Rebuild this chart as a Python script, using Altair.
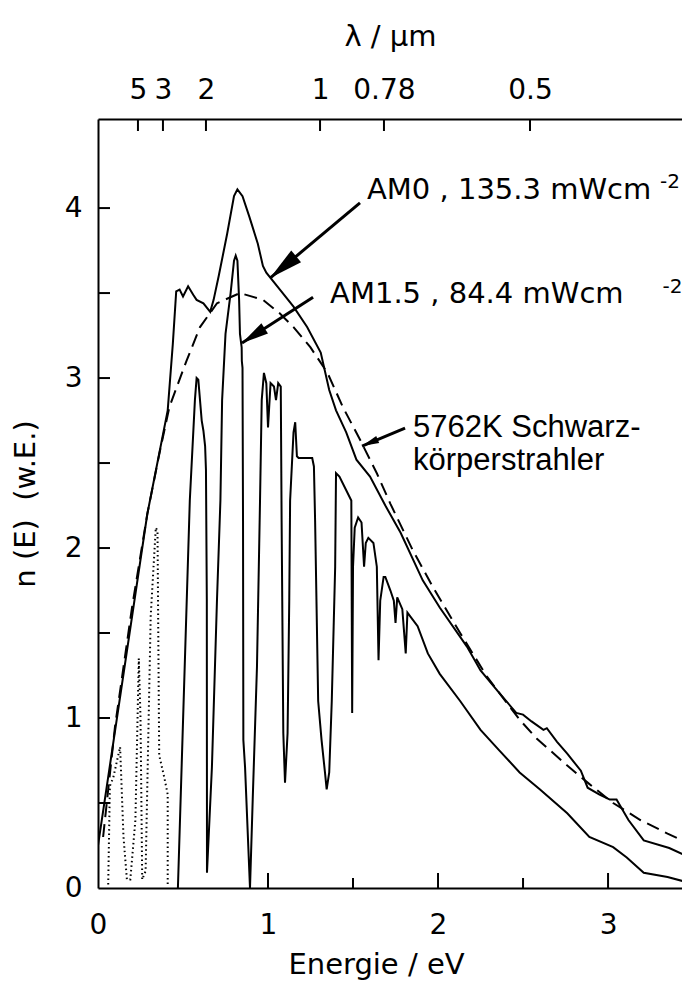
import math
import altair as alt
import pandas as pd

# ---------------- data ----------------
# AM0 spectrum (solid)
am0_E = [0.0, 0.29, 0.41, 0.44, 0.46, 0.48, 0.50, 0.53, 0.56, 0.58, 0.62, 0.66, 0.68, 0.71, 0.76,
         0.80, 0.82, 0.85, 0.89, 0.94, 0.97, 0.99, 1.07, 1.15, 1.23, 1.31, 1.36, 1.40, 1.46, 1.52,
         1.60, 1.69, 1.78, 1.91, 2.01, 2.17, 2.25, 2.35, 2.46, 2.50, 2.55, 2.62, 2.64, 2.70, 2.76,
         2.84, 2.88, 2.95, 3.01, 3.05, 3.12, 3.21, 3.36, 3.48]
am0_n = [0.25, 2.20, 2.81, 3.20, 3.51, 3.52, 3.48, 3.54, 3.49, 3.46, 3.44, 3.39, 3.46, 3.60, 3.85,
         4.07, 4.11, 4.07, 3.95, 3.79, 3.66, 3.62, 3.52, 3.42, 3.30, 3.15, 2.93, 2.81, 2.68, 2.52,
         2.42, 2.25, 2.09, 1.81, 1.65, 1.42, 1.28, 1.16, 1.03, 1.02, 0.98, 0.93, 0.94, 0.86, 0.79,
         0.69, 0.59, 0.55, 0.52, 0.52, 0.40, 0.28, 0.235, 0.18]

# AM1.5 spectrum, dotted low-energy part
am15dot_E = [0.06, 0.07, 0.09, 0.13, 0.15, 0.17, 0.19, 0.22, 0.24, 0.25, 0.26, 0.28, 0.31, 0.34,
             0.35, 0.36, 0.39, 0.41, 0.41]
am15dot_n = [0.02, 0.60, 0.65, 0.83, 0.30, 0.05, 0.05, 0.40, 1.35, 1.00, 0.05, 0.10, 1.60, 2.12,
             2.10, 0.78, 0.65, 0.55, 0.02]

# AM1.5 spectrum, solid part
am15_E = [0.47, 0.54, 0.57, 0.58, 0.59, 0.61, 0.62, 0.63, 0.635, 0.64, 0.641, 0.67, 0.70, 0.72,
          0.73, 0.75, 0.78, 0.80, 0.81, 0.82, 0.83, 0.835, 0.845, 0.846, 0.85, 0.853, 0.855, 0.865,
          0.894, 0.91, 0.935, 0.953, 0.963, 0.976, 0.99, 1.00, 1.015, 1.035, 1.047, 1.06, 1.075,
          1.08, 1.09, 1.10, 1.115, 1.125, 1.13, 1.15, 1.16, 1.17, 1.18, 1.26, 1.27, 1.277, 1.295,
          1.315, 1.335, 1.345, 1.36, 1.375, 1.395, 1.40, 1.42, 1.46, 1.49, 1.495, 1.50, 1.51, 1.53,
          1.55, 1.565, 1.575, 1.59, 1.62, 1.64, 1.65, 1.66, 1.68, 1.69, 1.72, 1.74, 1.75, 1.76,
          1.79, 1.81, 1.82, 1.88, 1.94, 2.01, 2.13, 2.25, 2.36, 2.48, 2.60, 2.76, 2.89, 3.03, 3.11,
          3.21, 3.35, 3.48]
am15_n = [0.00, 2.28, 2.87, 3.00, 2.99, 2.75, 2.69, 2.60, 2.46, 1.70, 0.09, 0.71, 1.70, 2.28,
          2.87, 3.26, 3.50, 3.69, 3.72, 3.69, 3.46, 3.26, 3.18, 3.10, 3.06, 2.16, 0.87, 0.71,
          0.00, 0.52, 1.30, 2.28, 2.87, 3.03, 2.97, 2.71, 2.97, 2.95, 2.87, 2.97, 2.95,
          2.16, 0.91, 0.62, 0.91, 1.70, 2.28, 2.68, 2.74, 2.54, 2.53, 2.53, 2.48, 2.16, 1.10,
          0.87, 0.68, 0.58, 0.68, 1.10, 1.89, 2.44, 2.42, 2.34, 2.28, 1.03, 1.89, 2.12, 2.18,
          2.15, 1.89, 2.03, 2.06, 2.03, 1.89, 1.34, 1.69, 1.83, 1.83, 1.75, 1.69, 1.56, 1.71,
          1.64, 1.38, 1.62, 1.54, 1.38, 1.26, 1.10, 0.93, 0.81, 0.68, 0.58, 0.44, 0.30, 0.24, 0.18,
          0.09, 0.065, 0.03]

# 5762 K black body (dashed)
bb_E = [0.03, 0.10, 0.20, 0.29, 0.36, 0.42, 0.52, 0.60, 0.70, 0.835, 0.97, 1.07, 1.15, 1.25, 1.35,
        1.44, 1.54, 1.64, 1.72, 1.85, 1.97, 2.13, 2.29, 2.48, 2.58, 2.76, 2.88, 3.03, 3.19, 3.35, 3.48]
bb_n = [0.30, 0.95, 1.65, 2.20, 2.55, 2.83, 3.10, 3.30, 3.44, 3.50, 3.46, 3.38, 3.30, 3.18, 3.03,
        2.83, 2.64, 2.44, 2.26, 1.99, 1.77, 1.50, 1.24, 0.99, 0.88, 0.72, 0.62, 0.50, 0.40, 0.32, 0.26]

# axes
x_labels = [0, 1, 2, 3]
x_minor = [1.5, 2.5]
y_labels = [0, 1, 2, 3, 4]
y_ticks = [0.5, 1, 1.5, 2, 2.5, 3, 3.5, 4]
lam_pos = [0.235, 0.382, 0.635, 1.306, 1.682, 2.541]   # energy position of the wavelength ticks
lam_lab = ["5", "3", "2", "1", "0.78", "0.5"]

# annotations
txt_main = ["AM0 , 135.3 mWcm", "AM1.5 , 84.4 mWcm"]
txt_main_E = [1.582, 1.365]
txt_main_n = [4.053, 3.44]
txt_sup = ["-2", "-2"]
txt_sup_E = [3.306, 3.32]
txt_sup_n = [4.12, 3.50]
txt_bb = ["5762K Schwarz-", "körperstrahler"]
txt_bb_E = [1.853, 1.853]
txt_bb_n = [2.653, 2.459]

arr_tail_E = [1.541, 1.265, 1.806]
arr_tail_n = [4.03, 3.476, 2.706]
arr_tip_E = [1.012, 0.847, 1.553]
arr_tip_n = [3.588, 3.206, 2.60]
arr_head = [34, 27, 17]

# ---------------- layout ----------------
XMAX, YMAX = 3.435, 4.524
W, H = 584, 769
FONT = "DejaVu Sans"

xs = alt.Scale(domain=[0, XMAX], nice=False, zero=False)
ys = alt.Scale(domain=[0, YMAX], nice=False, zero=False)


def series(E, n):
    return pd.DataFrame({"E": E, "n": n, "i": list(range(len(E)))})


def curve(df, **kw):
    style = dict(color="black", strokeWidth=2, clip=True)
    style.update(kw)
    return alt.Chart(df).mark_line(**style).encode(
        x=alt.X("E:Q", scale=xs, axis=None),
        y=alt.Y("n:Q", scale=ys, axis=None),
        order="i:Q",
    )


am0 = curve(series(am0_E, am0_n))
am15 = curve(series(am15_E, am15_n))
am15d = curve(series(am15dot_E, am15dot_n), strokeDash=[1.5, 3])
bb = curve(series(bb_E, bb_n), strokeDash=[13, 7])

common_axis = dict(
    labelFont=FONT, labelFontSize=28, labelColor="black", labelFlush=False, labelOverlap=False,
    ticks=False, tickSize=0, grid=False, domain=True, domainColor="black", domainWidth=2,
    titleFont=FONT, titleFontSize=29, titleFontWeight="normal", titleColor="black",
)

bottom_axis = alt.Axis(orient="bottom", values=x_labels, format="d", labelPadding=23,
                       title="Energie / eV", titlePadding=11, titleX=278, **common_axis)
top_axis = alt.Axis(orient="top", values=lam_pos, labelPadding=15, title="λ / µm", titlePadding=25,
                    labelExpr="['" + "','".join(lam_lab) + "'][indexof(["
                    + ",".join(str(v) for v in lam_pos) + "], datum.value)]",
                    **common_axis)
left_axis = alt.Axis(orient="left", values=y_labels, format="d", labelPadding=16,
                     title="n\u00a0(E)\u00a0\u00a0(w.E.)", titlePadding=24, **common_axis)

ytick_df = pd.DataFrame({"v": y_ticks})
yticks = alt.Chart(ytick_df).mark_rule(color="black", strokeWidth=2).encode(
    y=alt.Y("v:Q", scale=ys, axis=left_axis), x=alt.value(0), x2=alt.value(12))

xmaj = alt.Chart(pd.DataFrame({"v": x_labels[1:]})).mark_rule(color="black", strokeWidth=2).encode(
    x=alt.X("v:Q", scale=xs, axis=bottom_axis), y=alt.value(H), y2=alt.value(H - 15))
xmin = alt.Chart(pd.DataFrame({"v": x_minor})).mark_rule(color="black", strokeWidth=2).encode(
    x=alt.X("v:Q", scale=xs, axis=None), y=alt.value(H), y2=alt.value(H - 10))
xtop = alt.Chart(pd.DataFrame({"v": lam_pos})).mark_rule(color="black", strokeWidth=2).encode(
    x=alt.X("v:Q", scale=xs, axis=top_axis), y=alt.value(0), y2=alt.value(12))

main_txt = alt.Chart(pd.DataFrame({"E": txt_main_E, "n": txt_main_n, "t": txt_main})).mark_text(
    font=FONT, fontSize=29, align="left", baseline="alphabetic", color="black").encode(
    x=alt.X("E:Q", scale=xs, axis=None), y=alt.Y("n:Q", scale=ys, axis=None), text="t:N")
sup_txt = alt.Chart(pd.DataFrame({"E": txt_sup_E, "n": txt_sup_n, "t": txt_sup})).mark_text(
    font=FONT, fontSize=20, align="left", baseline="alphabetic", color="black").encode(
    x=alt.X("E:Q", scale=xs, axis=None), y=alt.Y("n:Q", scale=ys, axis=None), text="t:N")
bb_txt = alt.Chart(pd.DataFrame({"E": txt_bb_E, "n": txt_bb_n, "t": txt_bb})).mark_text(
    font="Liberation Sans", fontSize=31, align="left", baseline="alphabetic", color="black").encode(
    x=alt.X("E:Q", scale=xs, axis=None), y=alt.Y("n:Q", scale=ys, axis=None), text="t:N")

sx, sy = W / XMAX, H / YMAX
angles = []
for e0, n0, e1, n1 in zip(arr_tail_E, arr_tail_n, arr_tip_E, arr_tip_n):
    dx = (e1 - e0) * sx
    dy = -(n1 - n0) * sy
    angles.append(math.degrees(math.atan2(dx, -dy)) % 360)

arr_df = pd.DataFrame({"E0": arr_tail_E, "n0": arr_tail_n, "E1": arr_tip_E, "n1": arr_tip_n,
                       "ang": angles, "sz": [h * h for h in arr_head]})
arr_lines = alt.Chart(arr_df).mark_rule(color="black", strokeWidth=3).encode(
    x=alt.X("E0:Q", scale=xs, axis=None), y=alt.Y("n0:Q", scale=ys, axis=None),
    x2="E1:Q", y2="n1:Q")
arr_heads = alt.Chart(arr_df).mark_point(
    shape="M0,0L0.45,2L-0.45,2Z", filled=True, color="black", opacity=1, strokeWidth=0).encode(
    x=alt.X("E1:Q", scale=xs, axis=None), y=alt.Y("n1:Q", scale=ys, axis=None),
    angle=alt.Angle("ang:Q", scale=None), size=alt.Size("sz:Q", scale=None))

chart = alt.layer(
    yticks, xmaj, xmin, xtop, bb, am0, am15d, am15, arr_lines, arr_heads, main_txt, sup_txt, bb_txt
).resolve_axis(x="independent", y="independent").properties(
    width=W, height=H,
    autosize=alt.AutoSizeParams(type="none"),
    padding={"left": 90, "top": 111, "right": 0, "bottom": 96},
).configure_view(stroke=None)

chart.save("out.html", embed_options={"renderer": "svg", "actions": False})
